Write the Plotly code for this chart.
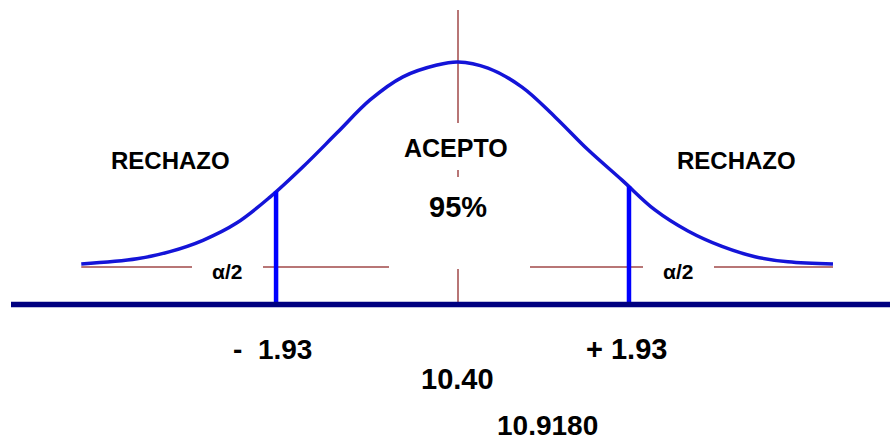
import plotly.graph_objects as go
import numpy as np

# ---- data (standardized scale: z units, density) ----
curve_z = [-2.99, -2.548, -2.286, -2.024, -1.754, -1.492, -1.230, -0.960, -0.698,
           -0.437, -0.167, 0.0, 0.238, 0.508, 0.770, 1.032, 1.302, 1.563, 1.825,
           2.095, 2.357, 2.619, 2.976]
curve_density = [0.006, 0.016, 0.030, 0.052, 0.086, 0.136, 0.195, 0.261, 0.325,
                 0.370, 0.393, 0.399, 0.387, 0.350, 0.292, 0.228, 0.169, 0.111,
                 0.070, 0.040, 0.020, 0.010, 0.006]
critical_z = [-1.444, 1.357]
mean_z = 0.0
baseline_level = -0.073
axis_top = 0.50
critical_labels = ["-  1.93", "+ 1.93"]
mean_label = "10.40"
value_label = "10.9180"
region_labels = ["RECHAZO", "ACEPTO", "RECHAZO"]
accept_pct = "95%"
alpha_label = "α/2"

# ---- pixel helpers for layout placement (890x442 canvas) ----
W, H = 890, 442
X0, XS = 458.0, 126.0      # px of z=0, px per z unit
Y0, YS = 267.0, 514.0      # px of density=0, px per density unit
def px(x):
    return (x - X0) / XS
def py(y):
    return (Y0 - y) / YS

fig = go.Figure()

RED = "#a04848"
# red horizontal reference line at density 0
fig.add_trace(go.Scatter(x=[curve_z[0], curve_z[-1]], y=[0, 0], mode="lines",
                         line=dict(color=RED, width=1.5), hoverinfo="skip"))
# red vertical at mean
fig.add_trace(go.Scatter(x=[mean_z, mean_z], y=[axis_top, baseline_level], mode="lines",
                         line=dict(color=RED, width=1.5), hoverinfo="skip"))
# normal curve
fig.add_trace(go.Scatter(x=curve_z, y=curve_density, mode="lines",
                         line=dict(color="#1414d8", width=3.5, shape="spline", smoothing=1.0),
                         hoverinfo="skip"))
# critical value lines
for cz in critical_z:
    top = float(np.interp(cz, curve_z, curve_density))
    fig.add_trace(go.Scatter(x=[cz, cz], y=[top, baseline_level], mode="lines",
                             line=dict(color="#0000ff", width=4.5), hoverinfo="skip"))
# thick baseline
fig.add_trace(go.Scatter(x=[px(11), px(900)], y=[baseline_level, baseline_level], mode="lines",
                         line=dict(color="#000080", width=5.5), hoverinfo="skip"))

# white masking boxes
shapes = []
for (x1, x2, y1, y2) in [(395, 520, 123, 170), (389, 530, 177, 269),
                         (192, 263, 255, 292), (643, 714, 255, 292)]:
    shapes.append(dict(type="rect", xref="x", yref="y", layer="above",
                       x0=px(x1), x1=px(x2), y0=py(y2), y1=py(y1),
                       fillcolor="white", line=dict(width=0)))

FONT = "Liberation Sans, Arial, sans-serif"
def ann(text, x, y, size, yanchor="middle"):
    return dict(text="<b>%s</b>" % text, x=px(x), y=py(y), xref="x", yref="y",
                showarrow=False, xanchor="center", yanchor=yanchor, borderpad=0,
                font=dict(family=FONT, size=size, color="black"))

annotations = [
    ann(region_labels[0], 170, 160, 24),
    ann(region_labels[1], 456, 148, 25),
    ann(region_labels[2], 736, 160, 24),
    ann(accept_pct, 458, 207, 29),
    ann(alpha_label, 227, 271, 21),
    ann(alpha_label, 678, 271, 21),
    ann(critical_labels[0], 272, 349, 28),
    ann(critical_labels[1], 626, 349, 29),
    ann(mean_label, 457, 379, 29),
    ann(value_label, 547, 442, 28, yanchor="bottom"),
]

fig.update_layout(
    width=W, height=H, margin=dict(l=0, r=0, t=0, b=0),
    paper_bgcolor="white", plot_bgcolor="white", showlegend=False,
    xaxis=dict(range=[px(0), px(W)], visible=False, fixedrange=True),
    yaxis=dict(range=[py(H), py(0)], visible=False, fixedrange=True),
    shapes=shapes, annotations=annotations,
)

fig.write_html("out.html", config={"displayModeBar": False},
               post_script="document.body.style.margin='0';document.body.style.overflow='hidden';")
